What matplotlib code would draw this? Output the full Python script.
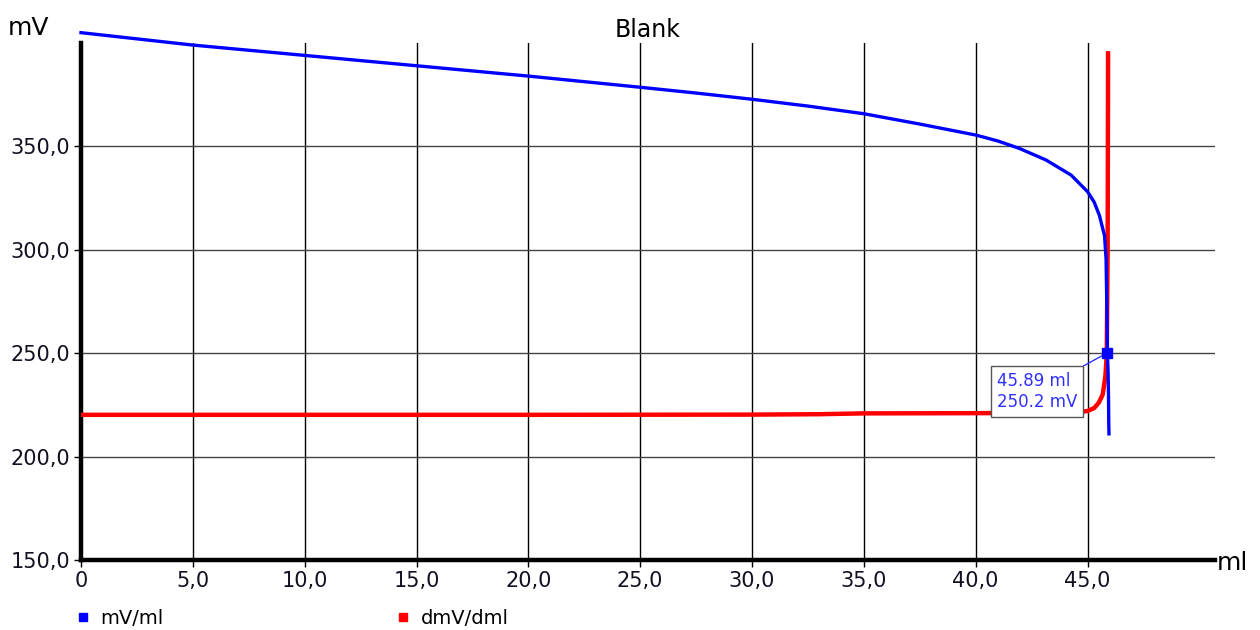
import matplotlib
matplotlib.use('Agg')
import matplotlib.pyplot as plt
from matplotlib.lines import Line2D

# titration curve
vol_mv = [0, 2.5, 5, 7.5, 10, 12.5, 15, 17.5, 20, 22.5, 25, 27.5, 30, 32.5, 35, 35.7, 37.5,
          40, 41, 41.96, 43.15, 44.27, 45.01, 45.3, 45.53, 45.76, 45.83, 45.86, 45.89,
          45.92, 45.94, 45.95, 45.96]
mv = [405, 402, 399, 396.5, 394, 391.5, 389, 386.5, 384, 381.3, 378.6, 375.8, 372.8, 369.5,
      365.8, 364.4, 360.8, 355.5, 352.6, 349, 343.4, 336.1, 328.0, 323, 316.7, 306.9, 295.6,
      275, 250.2, 241, 228, 216, 211]

# derivative, drawn on the same scale
vol_d = [0, 10, 20, 30, 33, 35, 40, 44, 45, 45.3, 45.5, 45.68, 45.8, 45.86, 45.9, 45.92]
dmv = [220.2, 220.2, 220.2, 220.3, 220.5, 220.9, 221.0, 221.2, 222, 223.5, 226, 230, 239,
       249, 300, 395]

x_ticks = [0, 5, 10, 15, 20, 25, 30, 35, 40, 45]
y_ticks = [150, 200, 250, 300, 350]
ep_x = 45.89
ep_y = 250.2

plt.rcParams['font.family'] = ['DejaVu Sans']

fig = plt.figure(figsize=(12.6, 6.3), dpi=100)
ax = fig.add_axes([81/1260, 70/630, (1215-81)/1260, (560-43)/630])

ax.plot(vol_d, dmv, color='#ff0000', lw=3.2, zorder=3)
ax.plot(vol_mv, mv, color='#0000ff', lw=2.4, zorder=4, clip_on=False)
ax.plot([ep_x], [ep_y], marker='s', color='#0000ff', ms=7, zorder=6)

ax.annotate('%.2f ml\n%.1f mV' % (ep_x, ep_y), xy=(ep_x, ep_y), xytext=(40.95, 231.5),
            ha='left', va='center', color='#3030ff', fontsize=12, linespacing=1.25,
            bbox=dict(boxstyle='square,pad=0.33', fc='white', ec='#555555', lw=1),
            arrowprops=dict(arrowstyle='-', color='#3030ff', lw=1, shrinkA=0, shrinkB=0),
            zorder=5)

ax.set_xlim(0, 50.7)
ax.set_ylim(150, 400)
ax.set_xticks(x_ticks)
ax.set_xticklabels(['0'] + [('%.1f' % v).replace('.', ',') for v in x_ticks[1:]])
ax.set_yticks(y_ticks)
ax.set_yticklabels([('%.1f' % v).replace('.', ',') for v in y_ticks])
ax.tick_params(labelsize=15, length=5, width=1, direction='out', pad=3, labelcolor='#111122')

ax.grid(True, axis='x', color='black', lw=1)
ax.grid(True, axis='y', color='#444444', lw=1)
ax.set_axisbelow(True)

for s in ['top', 'right']:
    ax.spines[s].set_visible(False)
ax.spines['left'].set_linewidth(3.2)
ax.spines['bottom'].set_linewidth(3.2)

ax.set_title('Blank', fontsize=17, pad=4)
fig.text(8/1260, 1 - 28/630, 'mV', fontsize=18, va='center', ha='left')
fig.text(1217/1260, 1 - 563/630, 'ml', fontsize=18, va='center', ha='left')

handles = [Line2D([], [], ls='none', marker='s', color='#0000ff', ms=6),
           Line2D([], [], ls='none', marker='s', color='#ff0000', ms=6)]
fig.legend(handles, ['mV/ml', 'dmV/dml'], loc='center left', bbox_to_anchor=(56/1260, 1 - 618/630),
           ncol=2, frameon=False, fontsize=14, columnspacing=11.8, handletextpad=0.4,
           handlelength=1.0)

fig.savefig('out.png', dpi=100)
